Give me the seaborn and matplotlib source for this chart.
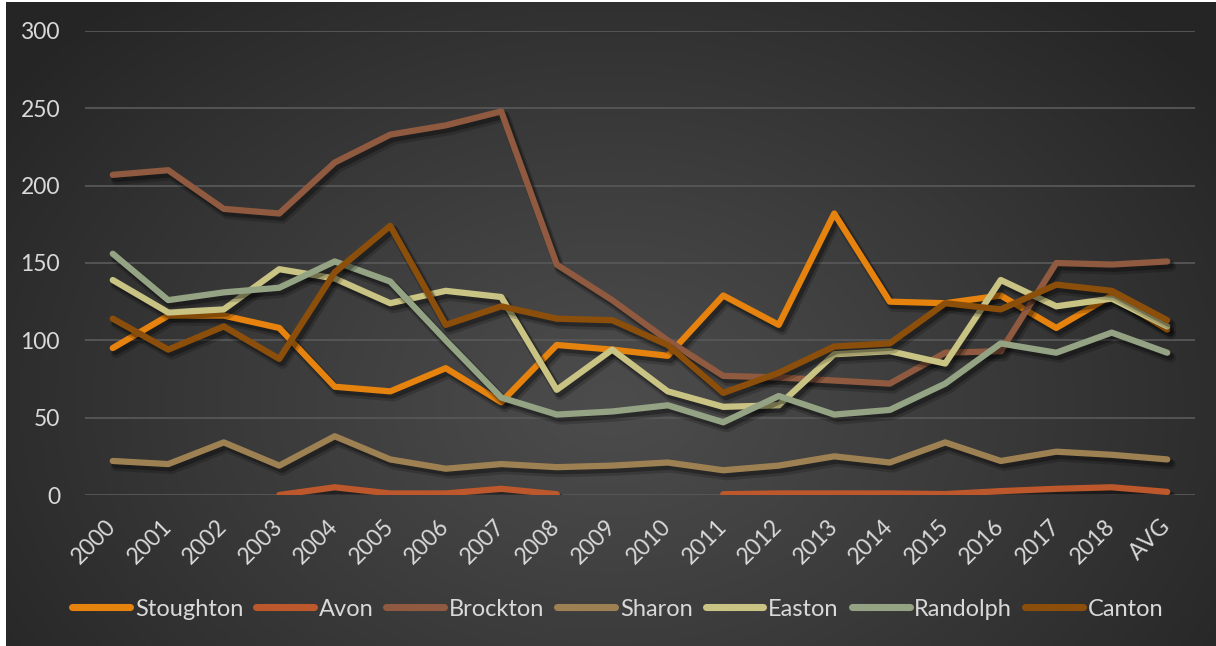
import numpy as np
import pandas as pd
import matplotlib
matplotlib.use("Agg")
import matplotlib.pyplot as plt
import matplotlib.patheffects as pe
from matplotlib.lines import Line2D
import seaborn as sns

# ---- data -------------------------------------------------------------
years = ["2000", "2001", "2002", "2003", "2004", "2005", "2006", "2007", "2008",
         "2009", "2010", "2011", "2012", "2013", "2014", "2015", "2016", "2017",
         "2018", "AVG"]

stoughton = [95, 116, 116, 108, 70, 67, 82, 60, 97, 94, 90, 129, 110, 182, 125, 124, 129, 108, 129, 107]
avon = [np.nan, np.nan, np.nan, 0, 5, 1, 1, 4, 0.5, np.nan, np.nan, 0.5, 1, 1, 1, 0.6, 2.5, 4, 5, 2]
brockton = [207, 210, 185, 182, 215, 233, 239, 248, 149, 126, 100, 77, 76, 74, 72, 92, 93, 150, 149, 151]
sharon = [22, 20, 34, 19, 38, 23, 17, 20, 18, 19, 21, 16, 19, 25, 21, 34, 22, 28, 26, 23]
easton = [139, 118, 120, 146, 140, 124, 132, 128, 68, 94, 67, 57, 58, 91, 93, 85, 139, 122, 127, 109]
randolph = [156, 126, 131, 134, 151, 138, 100, 63, 52, 54, 58, 47, 64, 52, 55, 72, 98, 92, 105, 92]
canton = [114, 94, 109, 88, 144, 174, 110, 122, 114, 113, 97, 66, 79, 96, 98, 124, 120, 136, 132, 113]

series_names = ["Stoughton", "Avon", "Brockton", "Sharon", "Easton", "Randolph", "Canton"]
series_values = [stoughton, avon, brockton, sharon, easton, randolph, canton]
series_colors = ["#E6820E", "#BD582C", "#8F5A3F", "#9E8152", "#C9C384", "#94A383", "#8C4F0B"]

yticks = [0, 50, 100, 150, 200, 250, 300]

# ---- style ------------------------------------------------------------
sns.set_theme(style="dark")
plt.rcParams["font.family"] = ["Lato", "DejaVu Sans"]
text_color = "#D9D9D9"

W, H = 1216, 646
fig = plt.figure(figsize=(W / 100, H / 100), dpi=100, facecolor="white")

# radial-gradient backdrop
bg = fig.add_axes([6 / W, 0, 1 - 6 / W, 1 - 2 / H])
bg.set_axis_off()
gx, gy = np.meshgrid(np.linspace(0, 1, 600), np.linspace(0, 1, 320))
r = np.sqrt(((gx - 0.5) / 0.62) ** 2 + ((gy - 0.62) / 0.85) ** 2)
t = np.clip(r, 0, 1) ** 1.1
c_in = np.array([0x4C, 0x4C, 0x4C]) / 255
c_out = np.array([0x25, 0x25, 0x25]) / 255
img = c_in[None, None, :] * (1 - t[..., None]) + c_out[None, None, :] * t[..., None]
bg.imshow(img, aspect="auto", extent=(0, 1, 0, 1), origin="upper")
bg.set_xlim(0, 1)
bg.set_ylim(0, 1)

ax = fig.add_axes([85 / W, 1 - 495 / H, (1195 - 85) / W, (495 - 31) / H])
ax.set_facecolor("none")

lw = 4.5
shadow = [
    pe.SimpleLineShadow(offset=(2.5, -3.5), shadow_color="black", alpha=0.18, linewidth=lw + 3),
    pe.SimpleLineShadow(offset=(2, -2.5), shadow_color="black", alpha=0.3, linewidth=lw + 1),
    pe.Normal(),
]

xpos = np.arange(len(years))
for name, vals, col in zip(series_names, series_values, series_colors):
    df = pd.DataFrame({"x": xpos, "y": vals})
    # split into unbroken runs so missing years leave gaps
    run_id = df["y"].isna().cumsum()
    for _, seg in df[df["y"].notna()].groupby(run_id[df["y"].notna()]):
        sns.lineplot(data=seg, x="x", y="y", ax=ax, color=col, linewidth=lw,
                     solid_capstyle="round", solid_joinstyle="round",
                     path_effects=shadow, legend=False, zorder=3)

ax.set_xlim(-0.5, len(years) - 0.5)
ax.set_ylim(0, 300)
ax.set_yticks(yticks)
ax.set_yticklabels([str(v) for v in yticks])
ax.set_xticks(xpos)
ax.set_xticklabels(years, rotation=45, ha="right", va="center", rotation_mode="anchor")
ax.set_xlabel("")
ax.set_ylabel("")
ax.grid(False)
for v in yticks:
    ax.axhline(v, color="#575757", linewidth=1.3, zorder=1)
for s in ax.spines.values():
    s.set_visible(False)
ax.tick_params(axis="both", length=0, colors=text_color, labelsize=16.5)
ax.tick_params(axis="y", pad=18)
ax.tick_params(axis="x", pad=20)

handles = [Line2D([0], [0], color=c, linewidth=lw + 0.6, solid_capstyle="round")
           for c in series_colors]
leg = fig.legend(handles, series_names, loc="center", bbox_to_anchor=(0.508, 0.057),
                 ncol=len(series_names), frameon=False, fontsize=17,
                 handlelength=2.45, handletextpad=0.2, columnspacing=0.55,
                 labelcolor=text_color)

fig.savefig("out.png", dpi=100, facecolor=fig.get_facecolor())
